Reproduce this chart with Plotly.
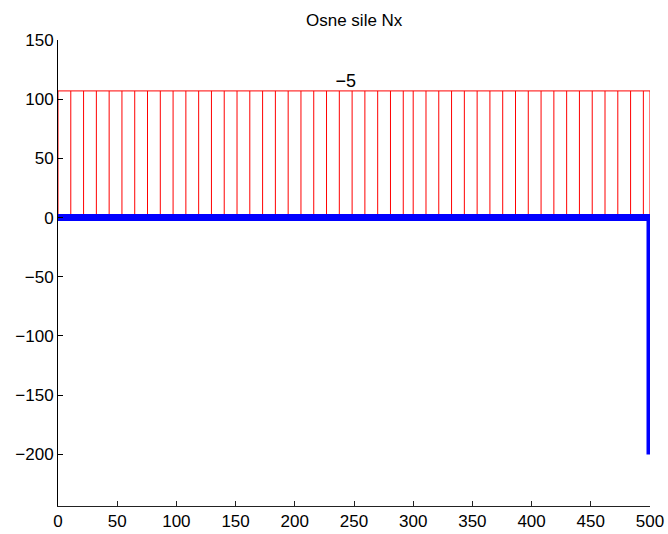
import plotly.graph_objects as go

# Frame (member) geometry
frame_x = [0, 500, 500]
frame_y = [0, 0, -200]

# Axial force diagram: scaled ordinate height and hatch ordinates positions
diagram_height = 107
diagram_label = "\u22125"
label_x = 243
label_y = 114
hatch_x = [0, 10.8, 21.6, 32.4, 43.2, 54, 64.8, 75.6, 86.4, 97.2, 108, 118.8,
           129.6, 140.4, 151.2, 162, 172.8, 183.6, 194.4, 205.2, 216, 226.8,
           237.6, 248.4, 259.2, 270, 280.8, 291.6, 300,
           310.8, 321.6, 332.4, 343.2, 354, 364.8, 375.6, 386.4, 397.2, 408,
           418.8, 429.6, 440.4, 451.2, 462, 472.8, 483.6, 494.4, 500]

x_ticks = [0, 50, 100, 150, 200, 250, 300, 350, 400, 450, 500]
y_ticks = [-200, -150, -100, -50, 0, 50, 100, 150]
title_text = "Osne sile Nx"

FONT = "Liberation Sans, Arial, Helvetica, sans-serif"

hx, hy = [], []
for x in hatch_x:
    hx += [x, x, None]
    hy += [0, diagram_height, None]

fig = go.Figure()
fig.add_trace(go.Scatter(x=hx, y=hy, mode="lines",
                         line=dict(color="#ff0000", width=1), hoverinfo="skip"))
fig.add_trace(go.Scatter(x=[hatch_x[0], hatch_x[-1]], y=[diagram_height, diagram_height],
                         mode="lines", line=dict(color="#ff0000", width=1), hoverinfo="skip"))
fig.add_trace(go.Scatter(x=frame_x, y=frame_y, mode="lines",
                         line=dict(color="#0000ff", width=7), hoverinfo="skip"))
fig.add_trace(go.Scatter(x=[label_x], y=[label_y], mode="text", text=[diagram_label],
                         textfont=dict(family=FONT, size=18, color="black"),
                         textposition="middle center", hoverinfo="skip"))

fig.add_annotation(text=title_text, x=0.5, xref="paper", xanchor="center",
                   y=1.042, yref="paper", yanchor="middle", showarrow=False,
                   font=dict(family=FONT, size=17, color="black"))

fig.update_layout(
    width=668, height=534,
    margin=dict(l=58, r=18, t=40, b=28, autoexpand=False),
    paper_bgcolor="white", plot_bgcolor="white",
    showlegend=False,
    font=dict(family=FONT, size=17, color="black"),
)
fig.update_xaxes(range=[0, 500], tickvals=x_ticks, showgrid=False, zeroline=False,
                 showline=True, linecolor="#222222", linewidth=1, automargin=False,
                 ticks="inside", ticklen=5, tickcolor="#222222",
                 tickfont=dict(family=FONT, size=17))
fig.update_yaxes(range=[-243.6, 150], tickvals=y_ticks, showgrid=False, zeroline=False,
                 showline=True, linecolor="black", linewidth=1, automargin=False,
                 ticks="inside", ticklen=5, tickcolor="black",
                 tickfont=dict(family=FONT, size=17))

fig.write_html("out.html",
               config={"displayModeBar": False},
               post_script="document.body.style.margin='0';document.body.style.overflow='hidden';")
